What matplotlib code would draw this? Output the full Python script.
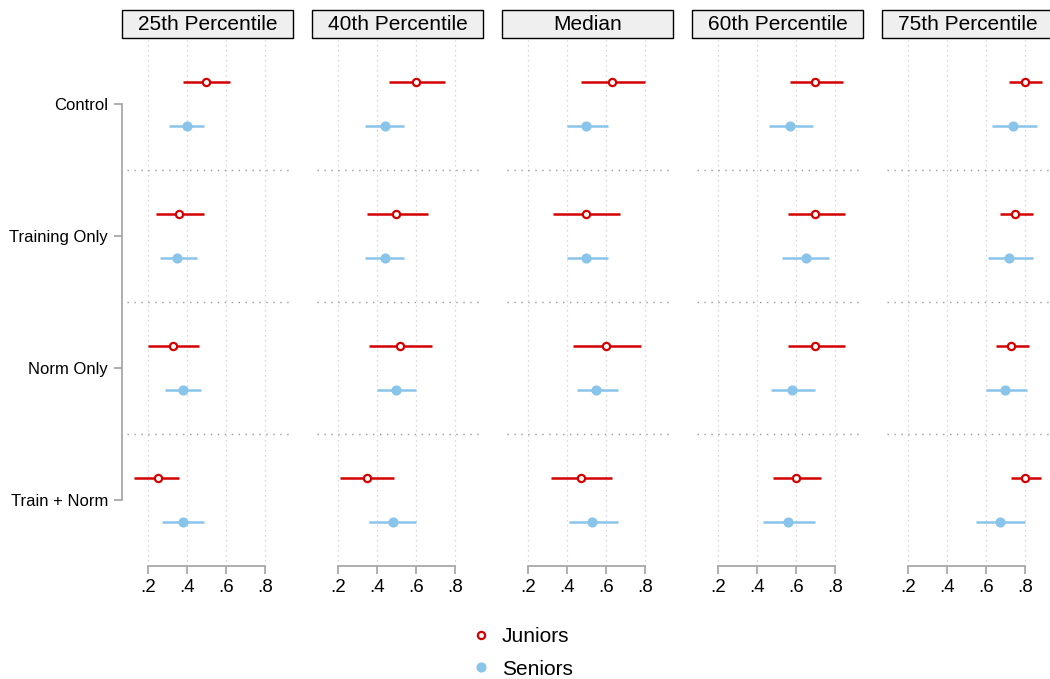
import numpy as np
import matplotlib
matplotlib.use("Agg")
import matplotlib.pyplot as plt
from matplotlib.patches import Rectangle
from matplotlib.lines import Line2D

plt.rcParams['font.family'] = ['Liberation Sans', 'DejaVu Sans']

panels = ["25th Percentile", "40th Percentile", "Median", "60th Percentile", "75th Percentile"]
groups = ["Control", "Training Only", "Norm Only", "Train + Norm"]

# point estimates, rows = panels, cols = groups
jun_est = [[0.50, 0.36, 0.33, 0.25],
           [0.60, 0.50, 0.52, 0.35],
           [0.63, 0.50, 0.60, 0.47],
           [0.70, 0.70, 0.70, 0.60],
           [0.80, 0.75, 0.73, 0.80]]
jun_lo = [[0.38, 0.24, 0.20, 0.13],
          [0.46, 0.35, 0.36, 0.21],
          [0.47, 0.33, 0.43, 0.32],
          [0.57, 0.56, 0.56, 0.48],
          [0.72, 0.67, 0.65, 0.73]]
jun_hi = [[0.62, 0.49, 0.46, 0.36],
          [0.75, 0.66, 0.68, 0.49],
          [0.80, 0.67, 0.78, 0.63],
          [0.84, 0.85, 0.85, 0.73],
          [0.89, 0.84, 0.82, 0.88]]

sen_est = [[0.40, 0.35, 0.38, 0.38],
           [0.44, 0.44, 0.50, 0.48],
           [0.50, 0.50, 0.55, 0.53],
           [0.57, 0.65, 0.58, 0.56],
           [0.74, 0.72, 0.70, 0.67]]
sen_lo = [[0.31, 0.26, 0.29, 0.27],
          [0.34, 0.34, 0.40, 0.36],
          [0.40, 0.40, 0.45, 0.41],
          [0.46, 0.53, 0.47, 0.43],
          [0.63, 0.61, 0.60, 0.55]]
sen_hi = [[0.49, 0.45, 0.47, 0.49],
          [0.54, 0.54, 0.60, 0.60],
          [0.61, 0.61, 0.66, 0.66],
          [0.69, 0.77, 0.70, 0.70],
          [0.86, 0.84, 0.81, 0.80]]

xticks = [0.2, 0.4, 0.6, 0.8]
xticklabels = [".2", ".4", ".6", ".8"]

red = "#d40000"
blue = "#89c4ea"
gray = "#a8a8a8"

W, H = 1050, 679
fig = plt.figure(figsize=(W / 100, H / 100), dpi=100)

ypos = np.arange(len(groups))
off = 22 / 132

for k, title in enumerate(panels):
    left = (122 + 190 * k) / W
    ax = fig.add_axes([left, 1 - 566 / H, 171 / W, 526 / H])
    ax.set_xlim(0.067, 0.944)
    ax.set_ylim(3.5, -0.485)

    for v in xticks:
        ax.axvline(v, color="#cccccc", lw=0.9, ls=(0, (1, 3)), zorder=0)
    for s in [0.5, 1.5, 2.5]:
        ax.axhline(s, xmin=0.03, color="#999999", lw=1.0, ls=(0, (1, 4)), zorder=0)

    ax.hlines(ypos - off, jun_lo[k], jun_hi[k], color=red, lw=1.8, zorder=2)
    ax.plot(jun_est[k], ypos - off, "o", ms=5.2, mfc="white", mec=red, mew=1.6, zorder=3)
    ax.hlines(ypos + off, sen_lo[k], sen_hi[k], color=blue, lw=1.8, zorder=2)
    ax.plot(sen_est[k], ypos + off, "o", ms=6.3, color=blue, mec=blue, zorder=3)

    for sp in ["top", "right"]:
        ax.spines[sp].set_visible(False)
    ax.spines["bottom"].set_bounds(0.2, 0.8)
    ax.spines["bottom"].set_color(gray)
    ax.spines["bottom"].set_linewidth(1.3)
    ax.set_xticks(xticks)
    ax.set_xticklabels(xticklabels, fontsize=13.5)
    ax.tick_params(axis="x", colors=gray, labelcolor="black", length=6, width=1.3, pad=3)

    if k == 0:
        ax.spines["left"].set_bounds(0, 3)
        ax.spines["left"].set_color(gray)
        ax.spines["left"].set_linewidth(1.3)
        ax.set_yticks(ypos)
        ax.set_yticklabels(groups, fontsize=12)
        ax.tick_params(axis="y", colors=gray, labelcolor="black", length=6, width=1.3, pad=4)
    else:
        ax.spines["left"].set_visible(False)
        ax.set_yticks([])

    ax.add_patch(Rectangle((0, 1 + 2 / 526), 1, 28 / 526, transform=ax.transAxes,
                           facecolor="#efefef", edgecolor="black", lw=1.0, clip_on=False))
    ax.text(0.5, 1 + 16 / 526, title, transform=ax.transAxes, ha="center", va="center",
            fontsize=15)

handles = [Line2D([], [], ls="none", marker="o", ms=5.2, mfc="white", mec=red, mew=1.6),
           Line2D([], [], ls="none", marker="o", ms=6.3, color=blue)]
fig.legend(handles, ["Juniors", "Seniors"], loc="center", bbox_to_anchor=(0.497, 1 - 653 / H),
           frameon=False, fontsize=15, handletextpad=0.5, labelspacing=0.65, handlelength=1.0)

fig.savefig("out.png", dpi=100)
